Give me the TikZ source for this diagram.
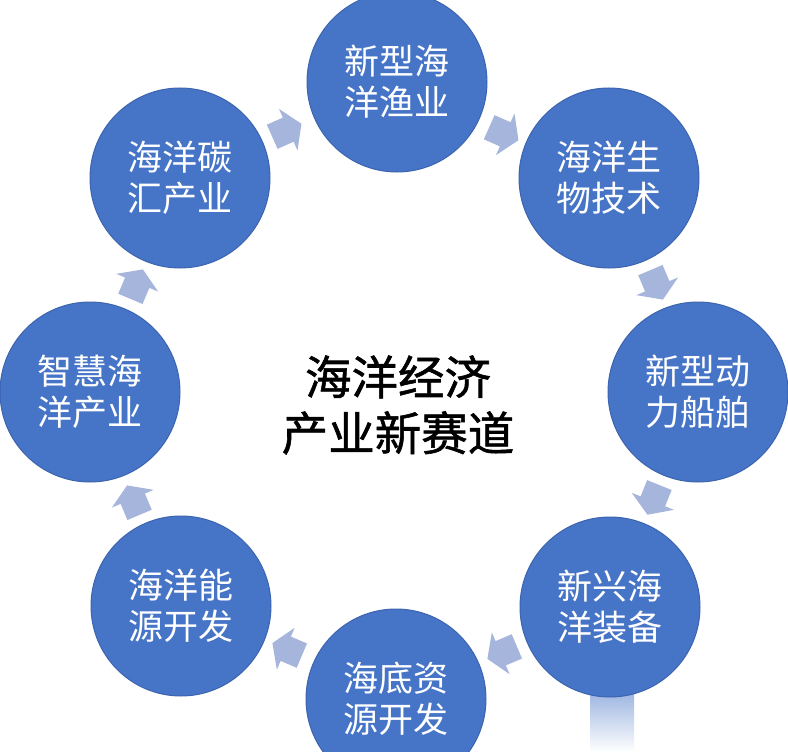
\documentclass[tikz,border=0pt]{standalone}
\usepackage{fontspec}
\newfontfamily\cjk{Noto Sans CJK SC}
\newfontfamily\cjkc[FakeBold=1.2]{Noto Sans CJK SC}
\usetikzlibrary{shapes.arrows}
\definecolor{circblue}{RGB}{70,116,198}
\definecolor{circedge}{RGB}{60,100,175}
\definecolor{arrblue}{RGB}{166,181,220}
\tikzset{
  x=1pt,y=1pt,
  ringcirc/.style={circle,fill=circblue,draw=circedge,line width=1pt,minimum size=180pt,inner sep=0pt,
    text=white,align=center,font=\cjk\fontsize{35}{41}\selectfont},
  blockarr/.style={single arrow,fill=arrblue,draw=none,minimum height=32pt,inner xsep=0pt,inner ysep=13pt,
    single arrow head extend=9.5pt,single arrow tip angle=115},
  centertext/.style={align=center,text=black,font=\cjkc\fontsize{46.5}{56}\selectfont}
}
\begin{document}
\begin{tikzpicture}
\useasboundingbox (0,0) rectangle (788,-752);
\fill[white] (0,0) rectangle (788,-752);
% faint artefact below right-lower circle
\shade[top color=circblue!55,bottom color=white,draw=none] (590,-690) rectangle (634,-752);
\node[ringcirc] (c1) at (397,-82) {新型海\\洋渔业};
\node[ringcirc] (c2) at (609,-178) {海洋生\\物技术};
\node[ringcirc] (c3) at (698,-392) {新型动\\力船舶};
\node[ringcirc] (c4) at (610,-607) {新兴海\\洋装备};
\node[ringcirc] (c5) at (396,-699) {海底资\\源开发};
\node[ringcirc] (c6) at (181,-606) {海洋能\\源开发};
\node[ringcirc] (c7) at (90,-392) {智慧海\\洋产业};
\node[ringcirc] (c8) at (180,-178) {海洋碳\\汇产业};
\node[centertext] (ct) at (398,-405) {海洋经济\\产业新赛道};
\node[blockarr,rotate=24] (a81) at (283,-132) {};
\node[blockarr,rotate=-24] (a12) at (500,-132) {};
\node[blockarr,rotate=-67] (a23) at (655,-281) {};
\node[blockarr,rotate=-112] (a34) at (655,-496) {};
\node[blockarr,rotate=-157] (a45) at (506,-651) {};
\node[blockarr,rotate=157] (a56) at (291,-651) {};
\node[blockarr,rotate=113] (a67) at (135,-504) {};
\node[blockarr,rotate=67] (a78) at (135,-288) {};
\end{tikzpicture}
\end{document}
